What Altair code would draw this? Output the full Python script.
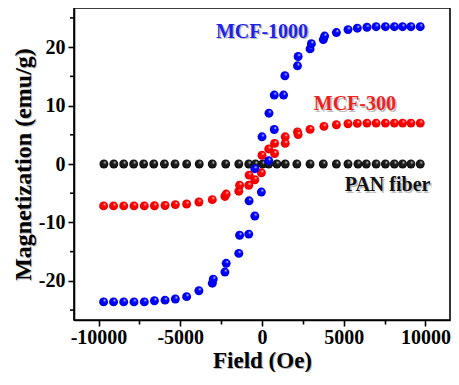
import altair as alt
import pandas as pd

# ---- data ----
PAN_H = [-9670, -9065, -8460, -7850, -7240, -6620, -5970, -5320, -4610, -3840,
         -3040, -2220, -1420, -810, -400, 40, 410, 910, 1420, 2130, 2940, 3750,
         4550, 5260, 5870, 6380, 6980, 7550, 8100, 8600, 9110, 9680]
PAN_M = [0.0, 0.0, 0.0, 0.0, 0.0, 0.0, 0.0, 0.0, 0.0, 0.0,
         0.0, 0.0, 0.0, 0.0, 0.0, 0.0, 0.0, 0.0, 0.0, 0.0, 0.0, 0.0,
         0.0, 0.0, 0.0, 0.0, 0.0, 0.0, 0.0, 0.0, 0.0, 0.0]

MCF1000_H = [-9690, -9080, -8460, -7830, -7200, -6580, -5930, -5300, -4610, -3860,
             -3040, -2980, -2270, -2190, -1420, -1370, -810, -790, -440, -440,
             -40, 0, 410, 425, 750, 750, 1320, 1400, 2170, 2210, 2940, 3020,
             3750, 3830, 4550, 5260, 5830, 6420, 6980, 7550, 8100, 8600, 9110, 9680]
MCF1000_M = [-23.6, -23.6, -23.6, -23.6, -23.6, -23.4, -23.3, -23.1, -22.7, -21.7,
             -20.4, -19.7, -18.5, -17.0, -15.3, -12.2, -12.0, -6.3, -8.9, -0.8,
             -4.8, 4.65, 0.55, 8.7, 5.9, 11.8, 11.8, 15.1, 16.8, 18.4, 19.7, 20.6,
             21.3, 21.9, 22.5, 23.0, 23.25, 23.4, 23.5, 23.5, 23.5, 23.5, 23.5, 23.5]

MCF300_H = [-9690, -9080, -8460, -7830, -7200, -6580, -5930, -5300, -4610, -3860,
            -3040, -2270, -2190, -1420, -1370, -810, -790, -440, -40, 0, 410,
            770, 770, 1420, 1420, 2170, 2210, 2940, 3790, 4550, 5260, 5830,
            6420, 6980, 7550, 8100, 8600, 9110, 9680]
MCF300_M = [-7.17, -7.17, -7.17, -7.17, -7.17, -7.15, -7.1, -6.95, -6.85, -6.5,
            -6.1, -5.55, -5.15, -4.65, -3.64, -3.64, -1.9, -2.69, -1.5, 1.5, 2.58,
            3.53, 1.8, 4.65, 3.53, 5.5, 5.04, 5.93, 6.44, 6.72, 6.89, 6.95,
            7.0, 7.0, 7.0, 7.0, 7.0, 7.0, 7.0]

LABELS = ["MCF-1000", "MCF-300", "PAN fiber"]
LABEL_H = [0, 5680, 7680]
LABEL_M = [22.6, 10.2, -3.6]
LABEL_COLORS = ["#1f1fee", "#ee1f1f", "#111111"]

X_TITLE = "Field (Oe)"
Y_TITLE = "Magnetization (emu/g)"

X_DOMAIN = [-11500, 11500]
Y_DOMAIN = [-26.7, 26.7]
X_TICKS = [-10000, -7500, -5000, -2500, 0, 2500, 5000, 7500, 10000]
Y_MAJOR = [-20, -10, 0, 10, 20]
Y_MINOR = [-25, -15, -5, 5, 15, 25]

FONT = "Liberation Serif"
W, H = 376, 312

x_scale = alt.Scale(domain=X_DOMAIN, nice=False, zero=False)
y_scale = alt.Scale(domain=Y_DOMAIN, nice=False, zero=False)

x_axis = alt.Axis(
    title=X_TITLE, values=X_TICKS, labelOverlap=False, zindex=1,
    labelExpr="datum.value % 5000 === 0 ? '' + datum.value : ''",
    tickSize={"condition": {"test": "datum.value % 5000 !== 0", "value": 4}, "value": 6},
    labelPadding=1, titleFontSize=23, titleY=47, titleBaseline="alphabetic",
)
y_axis = alt.Axis(
    title=Y_TITLE, values=Y_MAJOR, labelOverlap=False, zindex=1,
    labelExpr="'' + datum.value", tickSize=6,
    labelPadding=3, titleFontSize=24, titleX=-44, titleBaseline="alphabetic",
)


def sphere(base, dark):
    return alt.RadialGradient(
        gradient="radial", x1=0.64, y1=0.3, r1=0.0, x2=0.5, y2=0.5, r2=0.55,
        stops=[alt.GradientStop(color="#ffffff", offset=0.0),
               alt.GradientStop(color=base, offset=0.32),
               alt.GradientStop(color=base, offset=0.72),
               alt.GradientStop(color=dark, offset=1.0)])


def series(hs, ms, base, dark):
    df = pd.DataFrame({"H": hs, "M": ms})
    return alt.Chart(df).mark_point(filled=True, size=80, opacity=1,
                                    color=sphere(base, dark)).encode(
        x=alt.X("H:Q", scale=x_scale, axis=x_axis),
        y=alt.Y("M:Q", scale=y_scale, axis=y_axis),
    )


pan = series(PAN_H, PAN_M, "#1a1a1a", "#000000")
red = series(MCF300_H, MCF300_M, "#ff0000", "#c00000")
blue = series(MCF1000_H, MCF1000_M, "#0000ff", "#0000b8")

# minor ticks of the y axis
minor_y = alt.Chart(pd.DataFrame({"v": Y_MINOR})).mark_rule(
    color="#000000", strokeWidth=1.6).encode(
    y=alt.Y("v:Q", scale=y_scale), x=alt.value(-4), x2=alt.value(0))

# soft shadows behind the axis titles
title_df = pd.DataFrame({"t": [X_TITLE]})
x_title_shadow = alt.Chart(title_df).mark_text(
    font=FONT, fontSize=23, fontWeight="bold", color="#7a7a7a", opacity=0.5,
    baseline="alphabetic", align="center").encode(
    text="t:N", x=alt.value(W / 2 + 1.5), y=alt.value(H + 47 + 1.5))
ytitle_df = pd.DataFrame({"t": [Y_TITLE]})
y_title_shadow = alt.Chart(ytitle_df).mark_text(
    font=FONT, fontSize=24, fontWeight="bold", color="#7a7a7a", opacity=0.5,
    baseline="alphabetic", align="center", angle=270).encode(
    text="t:N", x=alt.value(-44 + 1.5), y=alt.value(H / 2 + 1.5))

lab_df = pd.DataFrame({"t": LABELS, "H": LABEL_H, "M": LABEL_M, "c": LABEL_COLORS})
lab_shadow = alt.Chart(lab_df).mark_text(
    font=FONT, fontSize=20, fontWeight="bold", color="#8a8a8a", opacity=0.55,
    dx=1.5, dy=1.5, baseline="middle").encode(
    x=alt.X("H:Q", scale=x_scale), y=alt.Y("M:Q", scale=y_scale), text="t:N")
lab = alt.Chart(lab_df).mark_text(
    font=FONT, fontSize=20, fontWeight="bold", baseline="middle").encode(
    x=alt.X("H:Q", scale=x_scale), y=alt.Y("M:Q", scale=y_scale), text="t:N",
    color=alt.Color("c:N", scale=None))

chart = alt.layer(x_title_shadow, y_title_shadow, pan, red, blue, minor_y,
                  lab_shadow, lab).properties(
    width=W, height=H,
    autosize=alt.AutoSizeParams(type="none"),
    padding={"left": 66, "top": 0, "right": 1, "bottom": 52},
).configure_view(
    stroke="#000000", strokeWidth=1.6,
).configure_axis(
    domainColor="#000000", domainWidth=1.6, tickColor="#000000", tickWidth=1.6,
    labelFont=FONT, labelFontSize=20, labelFontWeight="bold", labelColor="#000000",
    titleFont=FONT, titleFontWeight="bold", titleColor="#000000", grid=False,
)

chart.save("out.html", embed_options={"renderer": "svg", "actions": False})
